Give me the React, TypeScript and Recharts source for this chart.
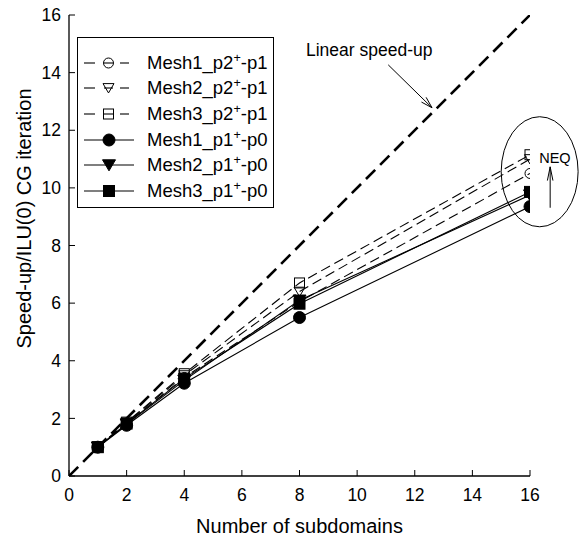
import React from 'react';
import { LineChart, Line, XAxis, YAxis, Legend, ReferenceArea, ReferenceLine } from 'recharts';

const FONT = '"Liberation Sans", Arial, Helvetica, sans-serif';

// Data
const subdomains = [1, 2, 4, 8, 16];
const mesh1P2 = [1.0, 1.82, 3.42, 6.05, 10.5];
const mesh2P2 = [1.0, 1.85, 3.5, 6.4, 11.0];
const mesh3P2 = [1.0, 1.87, 3.55, 6.7, 11.15];
const mesh1P1 = [1.0, 1.76, 3.22, 5.5, 9.35];
const mesh2P1 = [1.0, 1.8, 3.32, 6.1, 9.75];
const mesh3P1 = [1.0, 1.82, 3.38, 5.98, 9.86];

const idealX = [0, 16];
const idealY = [0, 16];

const axisTicks = [0, 2, 4, 6, 8, 10, 12, 14, 16];

type MarkerKind = 'circle' | 'triangle' | 'square';

interface SeriesDef {
  key: string;
  label: string;
  sup: string;
  tail: string;
  values: number[];
  marker: MarkerKind;
  filled: boolean;
}

const series: SeriesDef[] = [
  { key: 'm1p2', label: 'Mesh1_p2', sup: '+', tail: '-p1', values: mesh1P2, marker: 'circle', filled: false },
  { key: 'm2p2', label: 'Mesh2_p2', sup: '+', tail: '-p1', values: mesh2P2, marker: 'triangle', filled: false },
  { key: 'm3p2', label: 'Mesh3_p2', sup: '+', tail: '-p1', values: mesh3P2, marker: 'square', filled: false },
  { key: 'm1p1', label: 'Mesh1_p1', sup: '+', tail: '-p0', values: mesh1P1, marker: 'circle', filled: true },
  { key: 'm2p1', label: 'Mesh2_p1', sup: '+', tail: '-p0', values: mesh2P1, marker: 'triangle', filled: true },
  { key: 'm3p1', label: 'Mesh3_p1', sup: '+', tail: '-p0', values: mesh3P1, marker: 'square', filled: true },
];

const chartData = subdomains.map((x, i) => {
  const row: Record<string, number> = { x };
  series.forEach((s) => {
    row[s.key] = s.values[i];
  });
  return row;
});

const idealData = idealX.map((x, i) => ({ x, ideal: idealY[i] }));

function drawMarker(kind: MarkerKind, filled: boolean, cx: number, cy: number, key?: string) {
  const fill = filled ? '#000' : 'none';
  const sw = 1;
  if (kind === 'circle') {
    const r = filled ? 6 : 5;
    return <circle key={key} cx={cx} cy={cy} r={r} fill={fill} stroke="#000" strokeWidth={sw} />;
  }
  if (kind === 'square') {
    const h = filled ? 5.5 : 5;
    return <rect key={key} x={cx - h} y={cy - h} width={2 * h} height={2 * h} fill={fill} stroke="#000" strokeWidth={sw} />;
  }
  const w = filled ? 6.5 : 5.5;
  const pts = `${cx - w},${cy - w * 0.8} ${cx + w},${cy - w * 0.8} ${cx},${cy + w * 0.9}`;
  return <polygon key={key} points={pts} fill={fill} stroke="#000" strokeWidth={sw} strokeLinejoin="miter" />;
}

function LegendBox() {
  return (
    <div
      style={{
        width: 197,
        height: 171,
        boxSizing: 'border-box',
        border: '1.3px solid #000',
        background: '#fff',
        paddingTop: 12,
        fontFamily: FONT,
      }}
    >
      {series.map((s) => (
        <div key={s.key} style={{ display: 'flex', alignItems: 'center', height: 25.6 }}>
          <svg width={69} height={24} style={{ flex: 'none', overflow: 'visible' }}>
            {s.filled ? (
              <line x1={6} y1={12} x2={56} y2={12} stroke="#000" strokeWidth={1.2} />
            ) : (
              <g stroke="#000" strokeWidth={1.1}>
                <line x1={6} y1={12} x2={17} y2={12} />
                <line x1={26} y1={12} x2={35} y2={12} />
                <line x1={42} y1={12} x2={51} y2={12} />
              </g>
            )}
            {drawMarker(s.marker, s.filled, s.filled ? 31 : 30.5, 12)}
          </svg>
          <span style={{ fontSize: 18.5, color: '#000', whiteSpace: 'nowrap', lineHeight: '20px' }}>
            {s.label}
            <sup style={{ fontSize: '0.68em', lineHeight: 0, verticalAlign: '0.55em' }}>{s.sup}</sup>
            {s.tail}
          </span>
        </div>
      ))}
    </div>
  );
}

function arrowHead(x1: number, y1: number, x2: number, y2: number, len: number, spread: number) {
  const ang = Math.atan2(y2 - y1, x2 - x1);
  const a1 = ang + Math.PI - spread;
  const a2 = ang + Math.PI + spread;
  return (
    <g>
      <line x1={x2} y1={y2} x2={x2 + len * Math.cos(a1)} y2={y2 + len * Math.sin(a1)} />
      <line x1={x2} y1={y2} x2={x2 + len * Math.cos(a2)} y2={y2 + len * Math.sin(a2)} />
    </g>
  );
}

const LinearArrow = (p: any) => (
  <g stroke="#000" strokeWidth={1}>
    <line x1={p.x1} y1={p.y1} x2={p.x2} y2={p.y2} />
    {arrowHead(p.x1, p.y1, p.x2, p.y2, 12, 0.28)}
    <text
      x={p.x1 - 19}
      y={p.y1 - 9}
      textAnchor="middle"
      stroke="none"
      fill="#000"
      fontSize={17.5}
      fontFamily={FONT}
    >
      Linear speed-up
    </text>
  </g>
);

const NeqArrow = (p: any) => (
  <g stroke="#000" strokeWidth={1}>
    <line x1={p.x1} y1={p.y1} x2={p.x2} y2={p.y2} />
    {arrowHead(p.x1, p.y1, p.x2, p.y2, 14, 0.2)}
    <text
      x={p.x2 - 11}
      y={p.y2 - 9}
      dominantBaseline="central"
      stroke="none"
      fill="#000"
      fontSize={14.5}
      fontFamily={FONT}
    >
      NEQ
    </text>
  </g>
);

const EllipseShape = (p: any) => (
  <ellipse
    cx={p.x + p.width / 2}
    cy={p.y + p.height / 2}
    rx={Math.abs(p.width) / 2}
    ry={Math.abs(p.height) / 2}
    fill="none"
    stroke="#000"
    strokeWidth={1}
  />
);

const YLabel = (p: any) => {
  const vb = p.viewBox || {};
  const cx = 24;
  const cy = (vb.y ?? 15) + (vb.height ?? 461) / 2 - 27;
  return (
    <text
      x={cx}
      y={cy}
      transform={`rotate(-90 ${cx} ${cy})`}
      textAnchor="middle"
      dominantBaseline="central"
      fill="#000"
      fontSize={20}
      fontFamily={FONT}
    >
      Speed-up/ILU(0) CG iteration
    </text>
  );
};

const tickStyle = { fill: '#000', fontSize: 17.5, fontFamily: FONT };
const axisLineStyle = { stroke: '#000', strokeWidth: 1.3 };

export default function App() {
  return (
    <div style={{ width: 580, height: 538, background: '#fff' }}>
      <style>{`body{margin:0;background:#fff}`}</style>
      <LineChart
        width={580}
        height={538}
        data={chartData}
        margin={{ top: 15, right: 50, bottom: 0, left: 0 }}
        style={{ fontFamily: FONT }}
      >
        <XAxis
          dataKey="x"
          type="number"
          domain={[0, 16]}
          ticks={axisTicks}
          height={62}
          tickSize={-6}
          tickMargin={19}
          tick={tickStyle}
          axisLine={axisLineStyle}
          tickLine={{ stroke: '#000', strokeWidth: 1 }}
          allowDataOverflow
          label={{
            value: 'Number of subdomains',
            position: 'insideBottom',
            offset: 5,
            fill: '#000',
            fontSize: 20,
            fontFamily: FONT,
          }}
        />
        <XAxis
          xAxisId="top"
          orientation="top"
          dataKey="x"
          type="number"
          domain={[0, 16]}
          ticks={axisTicks}
          height={0}
          tickSize={-6}
          tick={false}
          axisLine={axisLineStyle}
          tickLine={{ stroke: '#000', strokeWidth: 1 }}
          allowDataOverflow
        />
        <YAxis
          type="number"
          domain={[0, 16]}
          ticks={axisTicks}
          width={69}
          tickSize={-6}
          tickMargin={14}
          tick={tickStyle}
          axisLine={axisLineStyle}
          tickLine={{ stroke: '#000', strokeWidth: 1 }}
          allowDataOverflow
          label={<YLabel />}
        />
        <YAxis
          yAxisId="right"
          orientation="right"
          type="number"
          domain={[0, 16]}
          ticks={axisTicks}
          width={0}
          tickSize={-6}
          tick={false}
          axisLine={axisLineStyle}
          tickLine={{ stroke: '#000', strokeWidth: 1 }}
          allowDataOverflow
        />
        <Legend
          layout="horizontal"
          verticalAlign="middle"
          align="center"
          content={() => <LegendBox />}
          wrapperStyle={{ position: 'absolute', left: 77, top: 37, width: 197, height: 171 }}
        />
        <Line
          data={idealData}
          dataKey="ideal"
          stroke="#000"
          strokeWidth={2.6}
          strokeDasharray="13 7"
          dot={false}
          activeDot={false}
          isAnimationActive={false}
          legendType="none"
        />
        {series.map((s) => (
          <Line
            key={s.key}
            dataKey={s.key}
            name={s.label}
            stroke="#000"
            strokeWidth={1.1}
            strokeDasharray={s.filled ? undefined : '10 5'}
            dot={(p: any) => drawMarker(s.marker, s.filled, p.cx, p.cy, `${s.key}-${p.index}`)}
            activeDot={false}
            isAnimationActive={false}
          />
        ))}
        <ReferenceLine
          segment={[
            { x: 11.08, y: 14.27 },
            { x: 12.6, y: 12.78 },
          ]}
          ifOverflow="visible"
          shape={LinearArrow}
        />
        <ReferenceArea
          x1={15.0}
          x2={17.67}
          y1={8.65}
          y2={12.47}
          ifOverflow="visible"
          shape={EllipseShape}
        />
        <ReferenceLine
          segment={[
            { x: 16.7, y: 9.31 },
            { x: 16.7, y: 10.73 },
          ]}
          ifOverflow="visible"
          shape={NeqArrow}
        />
      </LineChart>
    </div>
  );
}
